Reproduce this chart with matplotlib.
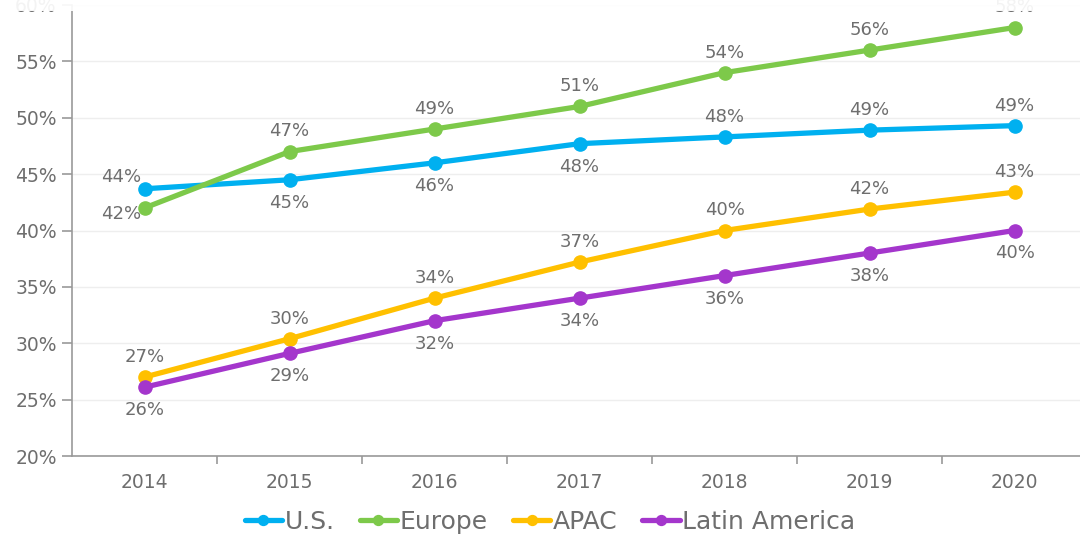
import numpy as np
import matplotlib.pyplot as plt
from matplotlib.ticker import FixedLocator
from matplotlib.patches import Rectangle

years = ['2014', '2015', '2016', '2017', '2018', '2019', '2020']
us = [43.7, 44.5, 46.0, 47.7, 48.3, 48.9, 49.3]
europe = [42.0, 47.0, 49.0, 51.0, 54.0, 56.0, 58.0]
apac = [27.0, 30.4, 34.0, 37.2, 40.0, 41.9, 43.4]
latam = [26.1, 29.1, 32.0, 34.0, 36.0, 38.0, 40.0]

us_lbl = ['44%', '45%', '46%', '48%', '48%', '49%', '49%']
eu_lbl = ['42%', '47%', '49%', '51%', '54%', '56%', '58%']
apac_lbl = ['27%', '30%', '34%', '37%', '40%', '42%', '43%']
latam_lbl = ['26%', '29%', '32%', '34%', '36%', '38%', '40%']

# label placement: +1 above, -1 below
us_pos = [1, -1, -1, -1, 1, 1, 1]
eu_pos = [-1, 1, 1, 1, 1, 1, 1]

grey = '#6e6e6e'
fig = plt.figure(figsize=(10.8, 5.36), dpi=100)
ax = fig.add_axes([72/1080, 80/536, 1015/1080, 451/536])

x = np.arange(len(years))
series = [
    ('U.S.', us, '#00B0F0', us_lbl, us_pos),
    ('Europe', europe, '#7DC94A', eu_lbl, eu_pos),
    ('APAC', apac, '#FFC000', apac_lbl, [1]*7),
    ('Latin America', latam, '#A436CC', latam_lbl, [-1]*7),
]
for name, vals, col, lbls, pos in series:
    ax.plot(x, vals, color=col, lw=3.8, marker='o', ms=9.5, label=name,
            solid_capstyle='round', zorder=3)
    for i, (v, t, p) in enumerate(zip(vals, lbls, pos)):
        off = (0, 14.5) if p > 0 else (0, -16.5)
        if i == 0 and name == 'U.S.':
            off = (-17, 8.5)
        if i == 0 and name == 'Europe':
            off = (-17, -4.5)
        ax.annotate(t, (i, v), xytext=off, textcoords='offset points',
                    ha='center', va='center', fontsize=13, color=grey)

ax.set_xlim(-0.5, 6.5)
ax.set_ylim(20, 60)
ax.set_yticks(np.arange(20, 61, 5))
ax.set_yticklabels([f'{v}%' for v in range(20, 61, 5)])
ax.set_xticks(x)
ax.set_xticklabels(years)
ax.xaxis.set_minor_locator(FixedLocator(x[:-1] + 0.5))
ax.tick_params(axis='x', which='major', length=0, pad=12, labelsize=13.5, labelcolor=grey)
ax.tick_params(axis='x', which='minor', length=6, color='#999999', width=1.2)
ax.tick_params(axis='y', length=7, color='#999999', width=1.2, labelsize=13.5, labelcolor=grey, pad=4)
ax.grid(axis='y', color='#EEEEEE', lw=1)
ax.set_axisbelow(True)
for s in ['top', 'right']:
    ax.spines[s].set_visible(False)
for s in ['left', 'bottom']:
    ax.spines[s].set_color('#999999')
    ax.spines[s].set_linewidth(1.2)

leg = fig.legend(loc='center', bbox_to_anchor=(550/1080, 1 - 522/536), ncol=4,
                 frameon=False, fontsize=18, handlelength=1.5, handletextpad=0.1,
                 columnspacing=1.0, markerscale=0.75)
for t in leg.get_texts():
    t.set_color(grey)

# the top strip of the picture is faded out
fig.patches.append(Rectangle((0, 1 - 11/536), 1, 11/536, transform=fig.transFigure,
                             facecolor='white', edgecolor='none', alpha=0.92, zorder=10))

fig.savefig('out.png', dpi=100)
